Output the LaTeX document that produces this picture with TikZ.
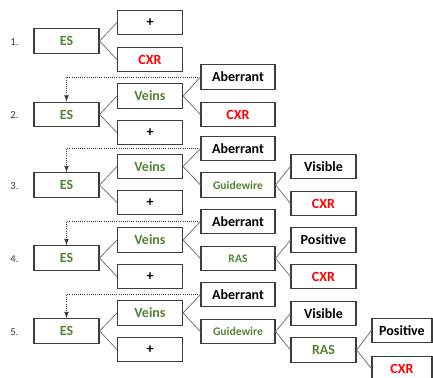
\documentclass[tikz,border=0pt]{standalone}
\usepackage{fontspec}
\setmainfont{Carlito}
\usepackage{xcolor}
\usepackage{tikz}
\usetikzlibrary{shapes,arrows}
\definecolor{esgreen}{RGB}{84,130,53}
\definecolor{cxrred}{RGB}{255,0,0}
\definecolor{edgegray}{RGB}{60,60,60}
\definecolor{linkgray}{RGB}{120,120,120}

\begin{document}
\begin{tikzpicture}[x=0.75pt,y=0.75pt,yscale=-1,xscale=1,
        box/.style={draw=edgegray,line width=0.9pt,minimum width=48.75pt,minimum height=18.4pt,inner sep=0pt,font=\bfseries\fontsize{10.5}{12}\selectfont},
        widebox/.style={box,minimum width=55.5pt},
        endbox/.style={box,minimum width=45pt},
        grn/.style={text=esgreen},
        rd/.style={text=cxrred},
        small/.style={font=\bfseries\fontsize{8.7}{10}\selectfont},
        link/.style={draw=linkgray,line width=0.6pt},
        back/.style={draw=edgegray,densely dotted,line width=0.6pt,-latex},
        num/.style={text=edgegray,inner sep=0pt,font=\fontsize{8}{10}\selectfont}]
        \clip (0,0) rectangle (433,378);

        % row 1
        \node[num] (n1) at (14.5,42) {1.};
        \node[box,grn] (es1) at (66.5,41) {ES};
        \node[box] (p1) at (150,22.5) {+};
        \node[box,rd] (cx1) at (150,59.5) {CXR};
        \draw[link] (es1.east) -- (p1.west);
        \draw[link] (es1.east) -- (cx1.west);

        % row 2
        \node[num] (n2) at (14.5,115.5) {2.};
        \node[box,grn] (es2) at (66.5,114.5) {ES};
        \node[box,grn] (vn2) at (150,96) {Veins};
        \node[box] (p2) at (150,132.5) {+};
        \node[widebox] (ab2) at (238,77) {Aberrant};
        \node[widebox,rd] (cx2) at (238,114.5) {CXR};
        \draw[link] (es2.east) -- (vn2.west);
        \draw[link] (es2.east) -- (p2.west);
        \draw[link] (vn2.east) -- (ab2.west);
        \draw[link] (vn2.east) -- (cx2.west);
        \draw[back] (ab2.west) -| (es2.north);

        % row 3
        \node[num] (n3) at (14.5,186) {3.};
        \node[box,grn] (es3) at (66.5,185) {ES};
        \node[box,grn] (vn3) at (150,166.5) {Veins};
        \node[box] (p3) at (150,202.5) {+};
        \node[widebox] (ab3) at (238,148.5) {Aberrant};
        \node[widebox,grn,small] (gw3) at (238,185) {Guidewire};
        \node[box] (vs3) at (323.5,166.5) {Visible};
        \node[box,rd] (cx3) at (323.5,203.5) {CXR};
        \draw[link] (es3.east) -- (vn3.west);
        \draw[link] (es3.east) -- (p3.west);
        \draw[link] (vn3.east) -- (ab3.west);
        \draw[link] (vn3.east) -- (gw3.west);
        \draw[link] (gw3.east) -- (vs3.west);
        \draw[link] (gw3.east) -- (cx3.west);
        \draw[back] (ab3.west) -| (es3.north);

        % row 4
        \node[num] (n4) at (14.5,259) {4.};
        \node[box,grn] (es4) at (66.5,258) {ES};
        \node[box,grn] (vn4) at (150,240) {Veins};
        \node[box] (p4) at (150,276.5) {+};
        \node[widebox] (ab4) at (238,221.5) {Aberrant};
        \node[widebox,grn,small] (ra4) at (238,258.5) {RAS};
        \node[box] (po4) at (323.5,240) {Positive};
        \node[box,rd] (cx4) at (323.5,276.5) {CXR};
        \draw[link] (es4.east) -- (vn4.west);
        \draw[link] (es4.east) -- (p4.west);
        \draw[link] (vn4.east) -- (ab4.west);
        \draw[link] (vn4.east) -- (ra4.west);
        \draw[link] (ra4.east) -- (po4.west);
        \draw[link] (ra4.east) -- (cx4.west);
        \draw[back] (ab4.west) -| (es4.north);

        % row 5
        \node[num] (n5) at (14.5,332) {5.};
        \node[box,grn] (es5) at (66.5,331) {ES};
        \node[box,grn] (vn5) at (150,313) {Veins};
        \node[box] (p5) at (150,349.5) {+};
        \node[widebox] (ab5) at (238,294.5) {Aberrant};
        \node[widebox,grn,small] (gw5) at (238,331.5) {Guidewire};
        \node[box] (vs5) at (323.5,313.5) {Visible};
        \node[box,grn] (ra5) at (323.5,350) {RAS};
        \node[endbox] (po5) at (402,330.5) {Positive};
        \node[endbox,rd] (cx5) at (402,368.5) {CXR};
        \draw[link] (es5.east) -- (vn5.west);
        \draw[link] (es5.east) -- (p5.west);
        \draw[link] (vn5.east) -- (ab5.west);
        \draw[link] (vn5.east) -- (gw5.west);
        \draw[link] (gw5.east) -- (vs5.west);
        \draw[link] (gw5.east) -- (ra5.west);
        \draw[link] (ra5.east) -- (po5.west);
        \draw[link] (ra5.east) -- (cx5.west);
        \draw[back] (ab5.west) -| (es5.north);
\end{tikzpicture}
\end{document}
